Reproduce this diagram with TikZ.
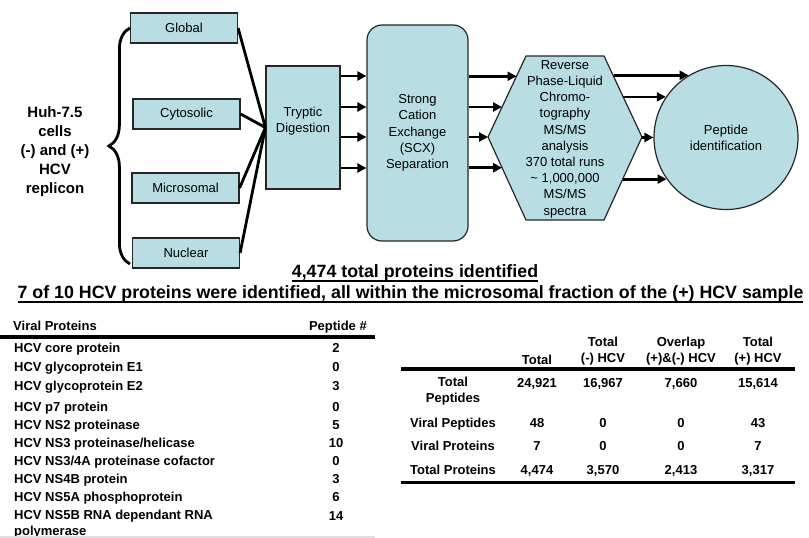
\documentclass[tikz,border=0pt]{standalone}
\usepackage{fontspec}
\setmainfont{Liberation Sans}
\usetikzlibrary{arrows.meta}
\usetikzlibrary{calc}
\usetikzlibrary{decorations.pathreplacing}

\definecolor{boxblue}{RGB}{184,222,228}
\newsavebox{\ttlbox}
\newcommand{\undertext}[1]{\sbox\ttlbox{#1}\rlap{\rule[-4pt]{\wd\ttlbox}{1.5pt}}\usebox\ttlbox}

\begin{document}
\begin{tikzpicture}[x=1pt, y=-1pt,
        hex/.style={draw=black!85, fill=boxblue, line width=1.2pt},
        flow/.style={hex, align=center, inner sep=2pt, font=\fontsize{13pt}{16.2pt}\selectfont},
        frac/.style={flow, minimum width=107pt, minimum height=30pt},
        conn/.style={line width=2.8pt},
        arr/.style={line width=2.8pt, -{Triangle[length=9pt,width=9pt]}},
        cell/.style={inner sep=0pt, align=center, font=\bfseries\fontsize{13pt}{16pt}\selectfont, execute at begin node=\strut},
        title/.style={anchor=base, inner sep=0pt, font=\bfseries\fontsize{17.8pt}{20pt}\selectfont},
        rule/.style={line width=3.3pt}]

            \useasboundingbox (0,0) rectangle (809,538);

            % fractions
            \node (global) at (184,28) [frac] {Global};
            \node (cyto) at (186.5,114) [frac] {Cytosolic};
            \node (micro) at (185.5,188) [frac] {Microsomal};
            \node (nucl) at (186,253) [frac] {Nuclear};

            \draw[conn, decorate, decoration={brace, amplitude=21pt}] (global.west |- 0,264) -- (global.west);
            \node (cells) at (55,152) [align=center, font=\bfseries\fontsize{15pt}{19pt}\selectfont] {Huh-7.5\\cells\\(-) and (+)\\HCV\\replicon};

            \node (tryp) at (303,127.5) [flow, minimum width=74pt, minimum height=123pt, text depth=15pt] {Tryptic\\Digestion};
            \node (scx) at (417.5,133) [flow, rounded corners=15pt, minimum width=101pt, minimum height=216pt] {Strong\\Cation\\Exchange\\(SCX)\\Separation};

            \draw[hex] (488,137) coordinate (hw) -- (526,56) coordinate (hnw) -- (604,56) coordinate (hne)
                -- (642,137) coordinate (he) -- (604,220) coordinate (hse) -- (526,220) coordinate (hsw) -- cycle;
            \node (rplc) at (565,139) [align=center, font=\fontsize{13pt}{16.2pt}\selectfont] {Reverse\\Phase-Liquid\\Chromo-\\tography\\MS/MS\\analysis\\370 total runs\\\textasciitilde\ 1,000,000\\MS/MS\\spectra};

            \node (pep) at (726,137.5) [flow, circle, minimum size=144pt] {Peptide\\identification};

            \foreach \f in {global, cyto, micro, nucl} {
                \draw[conn] (\f.east) -- (tryp.west);
            }

            \foreach \y in {76, 107, 137, 168} {
                \draw[arr] (tryp.east |- 0,\y) -- (scx.west |- 0,\y);
            }

            \coordinate (hin1) at ($(hw)!0.75!(hnw)$);
            \coordinate (hin2) at ($(hw)!0.37!(hnw)$);
            \coordinate (hin4) at ($(hw)!0.37!(hsw)$);
            \foreach \p in {hin1, hin2, hw, hin4} {
                \draw[arr] (scx.east |- \p) -- (\p);
            }

            \coordinate (hout1) at ($(he)!0.75!(hne)$);
            \coordinate (hout2) at ($(he)!0.49!(hne)$);
            \coordinate (hout4) at ($(he)!0.5!(hse)$);
            \foreach \p/\a in {hout1/121, hout2/146, he/180, hout4/215} {
                \draw[arr] (pep.\a -| \p) -- (pep.\a);
            }

            \node (total) at (415,277.5) [title] {\undertext{4,474 total proteins identified}};
            \node (found) at (410.5,298.5) [title] {\undertext{7 of 10 HCV proteins were identified, all within the microsomal fraction of the (+) HCV sample}};

            % viral proteins table
            \node (vph) at (13,319.5) [cell, anchor=north west] {Viral Proteins};
            \node (pnh) at (367,319.5) [cell, anchor=north east] {Peptide \#};
            \draw[rule] (0,337) -- (375,337);
            \foreach \y/\name/\n [count=\i] in {348/HCV core protein/2, 367/HCV glycoprotein E1/0,
                    386/HCV glycoprotein E2/3, 407/HCV p7 protein/0, 425/HCV NS2 proteinase/5,
                    443/{HCV NS3 proteinase/helicase}/10, 461/{HCV NS3/4A proteinase cofactor}/0,
                    479/HCV NS4B protein/3, 497/HCV NS5A phosphoprotein/6,
                    516/{HCV NS5B RNA dependant RNA\\polymerase}/14} {
                \node (prot\i) at (14,\y-6.55) [cell, anchor=north west, align=left] {\name};
                \node (pnum\i) at (336,\y-6.55) [cell, anchor=north] {\n};
            }
            \draw[line width=1.5pt, black!12] (0,537) -- (375,537);

            % totals table
            \node (th1) at (537,353.45) [cell, anchor=north] {Total};
            \node (th2) at (603,336.45) [cell, anchor=north] {Total\\(-) HCV};
            \node (th3) at (681,336.45) [cell, anchor=north] {Overlap\\(+)\&(-) HCV};
            \node (th4) at (758,336.45) [cell, anchor=north] {Total\\(+) HCV};
            \draw[rule] (401,369) -- (795,369);
            \foreach \y/\lab/\a/\b/\c/\d [count=\i] in {383/{Total\\Peptides}/{24,921}/{16,967}/{7,660}/{15,614},
                    423/Viral Peptides/48/0/0/43, 446/Viral Proteins/7/0/0/7,
                    470/Total Proteins/{4,474}/{3,570}/{2,413}/{3,317}} {
                \node (lab\i) at (453,\y-6.55) [cell, anchor=north] {\lab};
                \node (tot\i) at (537,\y-6.55) [cell, anchor=north] {\a};
                \node (neg\i) at (603,\y-6.55) [cell, anchor=north] {\b};
                \node (ovl\i) at (681,\y-6.55) [cell, anchor=north] {\c};
                \node (pos\i) at (758,\y-6.55) [cell, anchor=north] {\d};
            }
            \draw[line width=3pt] (401,482) -- (795,482);

            %\node at (0, 0) {$\cdot$};
        \end{tikzpicture}
\end{document}
